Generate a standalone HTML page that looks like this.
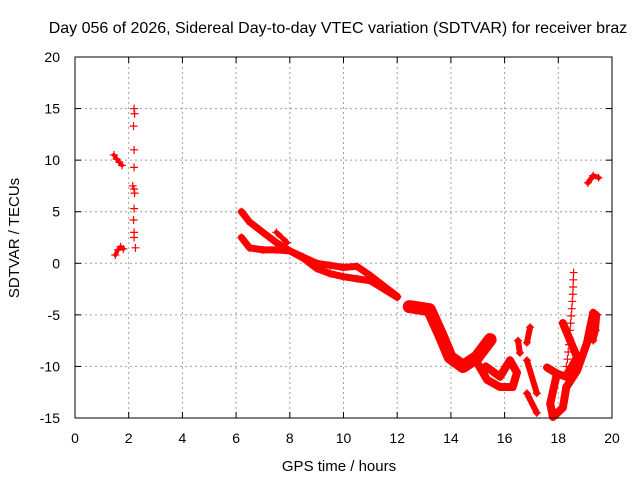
<!DOCTYPE html>
<html><head><meta charset="utf-8"><style>
body{margin:0;background:#fff}
svg{display:block;font-family:"Liberation Sans",sans-serif}
</style></head><body>
<svg id="c" width="640" height="480">
<rect width="640" height="480" fill="#fff"/>
<text x="338" y="33" font-size="16" text-anchor="middle">Day 056 of 2026, Sidereal Day-to-day VTEC variation (SDTVAR) for receiver braz</text>
<text x="339" y="471" font-size="15" text-anchor="middle">GPS time / hours</text>
<text transform="translate(19,238) rotate(-90)" font-size="15" text-anchor="middle">SDTVAR / TECUs</text>
<g id="grid"></g><g id="ticks"></g><g id="marks"></g>
<rect x="75" y="57" width="537" height="361" fill="none" stroke="#000"/>
</svg>
<script>
const xTicks=[0,2,4,6,8,10,12,14,16,18,20];
const yTicks=[-15,-10,-5,0,5,10,15,20];
const trackA=[[1.45,10.5],[1.55,10.1],[1.65,9.8],[1.75,9.5]];
const trackB=[[1.5,0.8],[1.6,1.3],[1.7,1.6],[1.8,1.4]];
const trackC=[[2.2,15],[2.22,14.5],[2.18,13.3],[2.2,11],[2.2,9.3],[2.15,7.5],[2.2,7.2],[2.22,6.8],[2.2,5.3],[2.18,4.2],[2.2,3],[2.2,2.5],[2.25,1.5]];
const trackD1=[[6.2,5],[6.5,4],[7,3],[7.5,2],[8,1.2],[8.5,0.5],[9,-0.5],[9.5,-1],[10,-1.3],[10.5,-1.5],[11,-1.7],[11.5,-2.5],[12,-3.3]];
const trackD2=[[6.2,2.5],[6.5,1.5],[7,1.3],[7.5,1.3],[8,1.2],[8.5,0.6],[9,0],[9.5,-0.2],[10,-0.4],[10.5,-0.3],[11,-1.2],[11.5,-2.2],[12,-3.2]];
const trackD3=[[7.5,3],[7.7,2.5],[7.9,2]];
const trackE=[[12.45,-4.2],[13.2,-4.5],[13.6,-6.8],[13.97,-9.1],[14.45,-10],[14.97,-9.1],[15.46,-7.4]];
const trackF=[[14.9,-9.3],[15.35,-11.3],[15.83,-12],[16.3,-12],[16.46,-10.6],[16.2,-9.4],[15.83,-11],[15.3,-10]];
const trackG=[[16.5,-7.5],[16.57,-8.7]];
const trackH=[[16.95,-6.2],[16.83,-7.7]];
const trackI=[[16.83,-9.4],[17.2,-12.6]];
const trackJ=[[16.83,-12.6],[17.2,-14.5]];
const trackK=[[17.58,-10.1],[17.95,-10.7],[17.7,-13.6],[17.8,-14.9],[18.17,-14],[18.3,-12]];
const trackL=[[18.17,-5.8],[18.7,-9.1],[18.3,-11],[17.95,-10.7]];
const trackM=[[19.3,-4.8],[19.07,-7.7],[18.7,-10.4],[18.3,-12]];
const trackN=[[18.57,-0.9],[18.56,-1.6],[18.55,-2.3],[18.54,-3],[18.52,-3.7],[18.5,-4.4],[18.48,-5.1],[18.46,-5.8],[18.44,-6.5],[18.42,-7.2],[18.4,-7.9],[18.37,-8.6],[18.34,-9.3],[18.3,-10],[18.25,-10.7]];
const trackO=[[19.3,-7.5],[19.4,-6.5],[19.45,-5]];
const trackP=[[19.1,7.8],[19.3,8.5],[19.5,8.3]];
const tracks=[trackA,trackB,trackC,trackD1,trackD2,trackD3,trackE,trackF,trackG,trackH,trackI,trackJ,trackK,trackL,trackM,trackN,trackO,trackP];
const widths=[4,4,0,7,7,5,13,8,6,6,6,6,8,8,8,0,6,5];
const NS="http://www.w3.org/2000/svg";
const X=h=>75+h*537/20, Y=v=>57+(20-v)*361/35;
const grid=document.getElementById('grid'),ticks=document.getElementById('ticks'),marks=document.getElementById('marks');
function mk(t,a,p){const e=document.createElementNS(NS,t);for(const k in a)e.setAttribute(k,a[k]);p.appendChild(e);return e;}
xTicks.forEach(t=>{const x=X(t);
 if(t>0&&t<20){const g=mk('line',{x1:x,x2:x,y1:57,y2:418,stroke:'#a0a0a0','stroke-dasharray':'2,3'},grid);
 
 }
 mk('line',{x1:x,x2:x,y1:418,y2:412,stroke:'#000'},ticks);mk('line',{x1:x,x2:x,y1:57,y2:63,stroke:'#000'},ticks);
 const l=mk('text',{x:x,y:443,'font-size':14,'text-anchor':'middle'},ticks);l.textContent=t;
 
 });
yTicks.forEach(t=>{const y=Y(t);
 if(t>-15&&t<20){const g=mk('line',{x1:75,x2:612,y1:y,y2:y,stroke:'#a0a0a0','stroke-dasharray':'2,3'},grid);
 
 }
 mk('line',{x1:75,x2:81,y1:y,y2:y,stroke:'#000'},ticks);mk('line',{x1:612,x2:606,y1:y,y2:y,stroke:'#000'},ticks);
 const l=mk('text',{x:60,y:y+5,'font-size':14,'text-anchor':'end'},ticks);l.textContent=t;
 
 });
tracks.forEach((tr,i)=>{
 const g=mk('g',{},marks);
 
 
 if(widths[i]>0){mk('polyline',{points:tr.map(p=>X(p[0])+','+Y(p[1])).join(' '),fill:'none',stroke:'#f00','stroke-width':widths[i],'stroke-linejoin':'round','stroke-linecap':'round'},g);}
 tr.forEach(p=>{const x=X(p[0]),y=Y(p[1]);
  const m=mk('path',{d:`M${x-4},${y}h8M${x},${y-4}v8`,stroke:'#f00','stroke-width':1.2},g);
  
  });
});
</script>
</body></html>
